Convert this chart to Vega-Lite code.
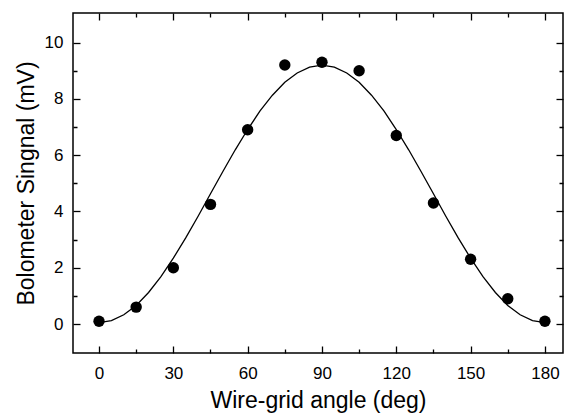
{
  "$schema": "https://vega.github.io/schema/vega-lite/v6.json",
  "width": 490,
  "height": 340,
  "autosize": "none",
  "padding": {"left": 73, "top": 13, "right": 2, "bottom": 62},
  "background": "white",
  "config": {
    "font": "Liberation Sans",
    "view": {"stroke": "black", "strokeWidth": 1.5},
    "axis": {
      "domain": false, "grid": false, "ticks": true, "tickColor": "black", "tickWidth": 1.3,
      "offset": -7, "tickSize": 7,
      "labelColor": "black", "titleColor": "black", "labelFont": "Liberation Sans", "titleFont": "Liberation Sans",
      "labelFontSize": 17, "titleFontSize": 23, "titleFontWeight": "normal"
    }
  },
  "datasets": {
    "meas": [
      {"angle": 0, "signal": 0.1}, {"angle": 15, "signal": 0.6}, {"angle": 30, "signal": 2.0},
      {"angle": 45, "signal": 4.25}, {"angle": 60, "signal": 6.9}, {"angle": 75, "signal": 9.2},
      {"angle": 90, "signal": 9.3}, {"angle": 105, "signal": 9.0}, {"angle": 120, "signal": 6.7},
      {"angle": 135, "signal": 4.3}, {"angle": 150, "signal": 2.3}, {"angle": 165, "signal": 0.9},
      {"angle": 180, "signal": 0.1}
    ],
    "fit": [
      {"angle": 0, "signal": 0.05}, {"angle": 5, "signal": 0.12}, {"angle": 10, "signal": 0.33},
      {"angle": 15, "signal": 0.66}, {"angle": 20, "signal": 1.12}, {"angle": 25, "signal": 1.68},
      {"angle": 30, "signal": 2.34}, {"angle": 35, "signal": 3.06}, {"angle": 40, "signal": 3.83},
      {"angle": 45, "signal": 4.63}, {"angle": 50, "signal": 5.42}, {"angle": 55, "signal": 6.19},
      {"angle": 60, "signal": 6.91}, {"angle": 65, "signal": 7.57}, {"angle": 70, "signal": 8.13},
      {"angle": 75, "signal": 8.59}, {"angle": 80, "signal": 8.92}, {"angle": 85, "signal": 9.13},
      {"angle": 90, "signal": 9.2}, {"angle": 95, "signal": 9.13}, {"angle": 100, "signal": 8.92},
      {"angle": 105, "signal": 8.59}, {"angle": 110, "signal": 8.13}, {"angle": 115, "signal": 7.57},
      {"angle": 120, "signal": 6.91}, {"angle": 125, "signal": 6.19}, {"angle": 130, "signal": 5.42},
      {"angle": 135, "signal": 4.63}, {"angle": 140, "signal": 3.83}, {"angle": 145, "signal": 3.06},
      {"angle": 150, "signal": 2.34}, {"angle": 155, "signal": 1.68}, {"angle": 160, "signal": 1.12},
      {"angle": 165, "signal": 0.66}, {"angle": 170, "signal": 0.33}, {"angle": 175, "signal": 0.12},
      {"angle": 180, "signal": 0.05}
    ]
  },
  "layer": [
    {
      "data": {"name": "fit"},
      "mark": {"type": "line", "color": "black", "strokeWidth": 1.3},
      "encoding": {
        "x": {"field": "angle", "type": "quantitative", "scale": {"domain": [-10.5, 187.3], "nice": false, "zero": false},
          "axis": {"orient": "bottom", "title": "Wire-grid angle (deg)",
            "values": [0, 15, 30, 45, 60, 75, 90, 105, 120, 135, 150, 165, 180],
            "labelExpr": "datum.value % 30 === 0 ? datum.label : ''",
            "tickDash": {"condition": {"test": "datum.value % 30 === 0", "value": [7, 100]}, "value": [0, 3, 4, 100]},
            "labelPadding": 12, "titlePadding": 8}},
        "y": {"field": "signal", "type": "quantitative", "scale": {"domain": [-1.03, 11.05], "nice": false, "zero": false},
          "axis": {"orient": "left", "title": "Bolometer Singnal (mV)",
            "values": [0, 1, 2, 3, 4, 5, 6, 7, 8, 9, 10],
            "labelExpr": "datum.value % 2 === 0 ? datum.label : ''",
            "tickDash": {"condition": {"test": "datum.value % 2 === 0", "value": [7, 100]}, "value": [0, 3, 4, 100]},
            "labelPadding": 10, "titlePadding": 6}}
      }
    },
    {
      "data": {"name": "meas"},
      "mark": {"type": "point", "filled": true, "color": "black", "opacity": 1, "size": 130},
      "encoding": {
        "x": {"field": "angle", "type": "quantitative",
          "axis": {"orient": "top", "title": null, "labels": false,
            "values": [0, 15, 30, 45, 60, 75, 90, 105, 120, 135, 150, 165, 180],
            "tickDash": {"condition": {"test": "datum.value % 30 === 0", "value": [7, 100]}, "value": [0, 3, 4, 100]}}},
        "y": {"field": "signal", "type": "quantitative",
          "axis": {"orient": "right", "title": null, "labels": false,
            "values": [0, 1, 2, 3, 4, 5, 6, 7, 8, 9, 10],
            "tickDash": {"condition": {"test": "datum.value % 2 === 0", "value": [7, 100]}, "value": [0, 3, 4, 100]}}}
      }
    }
  ],
  "resolve": {"axis": {"x": "independent", "y": "independent"}}
}
